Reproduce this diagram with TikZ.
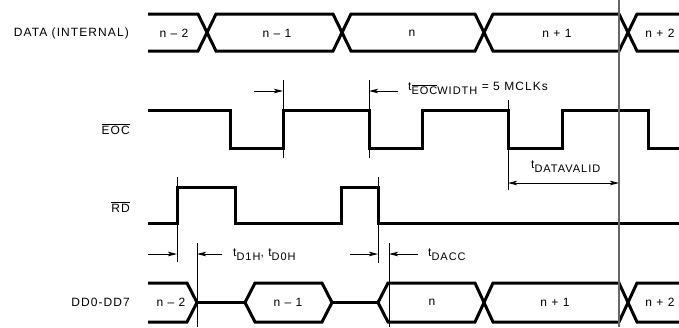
\documentclass[tikz,border=0pt]{standalone}
\usepackage{fontspec}
\setmainfont{Liberation Sans}[LetterSpace=9]
\usetikzlibrary{arrows.meta}
\newcommand\ovl[1]{$\overline{\hbox{#1}}$}
\newcommand\tsub[1]{t\raisebox{-4.5pt}{\fontsize{11}{13}\selectfont #1}}
\begin{document}
\begin{tikzpicture}[x=1pt,y=-1pt,
  sig/.style={line width=3pt, line join=miter, line cap=butt},
  tick/.style={line width=0.9pt},
  dim/.style={line width=0.9pt, -{Stealth[length=9pt,width=4.5pt,inset=2pt]}},
  ddim/.style={line width=0.9pt, {Stealth[length=9pt,width=4.5pt,inset=2pt]}-{Stealth[length=9pt,width=4.5pt,inset=2pt]}},
  rowlbl/.style={anchor=east, inner sep=0pt, font=\fontsize{12}{14}\selectfont},
  txt/.style={inner sep=0pt, font=\fontsize{12}{14}\selectfont},
  tlbl/.style={anchor=base west, inner sep=0pt, font=\fontsize{12}{14}\selectfont}]
\useasboundingbox (0,0) rectangle (679,327);

% row labels
\node[rowlbl] (lData) at (129,33) {DATA (INTERNAL)};
\node[rowlbl] (lEoc) at (130,129) {\ovl{EOC}};
\node[rowlbl] (lRd) at (130,207) {\ovl{RD}};
\node[rowlbl] (lDd) at (130,302) {DD0-DD7};

% DATA (INTERNAL)
\draw[sig] (148,14) -- (198,14) -- (216,51) -- (333,51) -- (351,14) -- (475,14) -- (493,51) -- (619,51) -- (637,14) -- (679,14);
\draw[sig] (148,51) -- (198,51) -- (216,14) -- (333,14) -- (351,51) -- (475,51) -- (493,14) -- (619,14) -- (637,51) -- (679,51);
\node[txt] (d1) at (174,33) {n -- 2};
\node[txt] (d2) at (277,33) {n -- 1};
\node[txt] (d3) at (412,33) {n};
\node[txt] (d4) at (557,33) {n + 1};
\node[txt] (d5) at (660,33) {n + 2};

% EOC
\draw[sig] (148,110) -- (230,110) -- (230,148) -- (283,148) -- (283,110) -- (369,110) -- (369,148) -- (422,148) -- (422,110) -- (508,110) -- (508,148) -- (562,148) -- (562,110) -- (648,110) -- (648,148) -- (679,148);

% RD
\draw[sig] (148,223) -- (177,223) -- (177,187) -- (235,187) -- (235,223) -- (341,223) -- (341,187) -- (378,187) -- (378,223) -- (679,223);

% DD0-DD7
\draw[sig] (148,283) -- (187,283) -- (197,302.5) -- (187,322) -- (148,322);
\draw[sig] (197,302.5) -- (245,302.5);
\draw[sig] (245,302.5) -- (255,283) -- (322,283) -- (332,302.5) -- (322,322) -- (255,322) -- cycle;
\draw[sig] (332,302.5) -- (378,302.5);
\draw[sig] (378,302.5) -- (388,283) -- (475,283) -- (493,322) -- (619,322) -- (637,283) -- (679,283);
\draw[sig] (378,302.5) -- (388,322) -- (475,322) -- (493,283) -- (619,283) -- (637,322) -- (679,322);
\node[txt] (b1) at (171,302) {n -- 2};
\node[txt] (b2) at (288,302) {n -- 1};
\node[txt] (b3) at (432,302) {n};
\node[txt] (b4) at (555,302) {n + 1};
\node[txt] (b5) at (660,302) {n + 2};

% gray reference line
\draw[line width=1.2pt, black!60] (619,0) -- (619,327);

% ticks
\coordinate (e1t) at (283,80);   \coordinate (e1b) at (283,158);
\coordinate (e2t) at (369,80);   \coordinate (e2b) at (369,158);
\coordinate (e3t) at (508,100);  \coordinate (e3b) at (508,190);
\coordinate (r1t) at (177,177);  \coordinate (r1b) at (177,262);
\coordinate (r2t) at (378,177);  \coordinate (r2b) at (378,263);
\coordinate (q1t) at (197,243);  \coordinate (q1b) at (197,327);
\coordinate (q2t) at (389,243);  \coordinate (q2b) at (389,327);
\foreach \a in {e1,e2,e3,r1,r2,q1,q2} \draw[tick] (\a t) -- (\a b);

% dimension arrows
\coordinate (a1s) at (254,91);  \coordinate (a1e) at (283,91);
\coordinate (a2s) at (398,91);  \coordinate (a2e) at (369,91);
\coordinate (v1) at (508,183);  \coordinate (v2) at (619,183);
\coordinate (a3s) at (148,254); \coordinate (a3e) at (177,254);
\coordinate (a4s) at (222,254); \coordinate (a4e) at (197,254);
\coordinate (a5s) at (350,254); \coordinate (a5e) at (378,254);
\coordinate (a6s) at (418,254); \coordinate (a6e) at (389,254);
\draw[dim] (a1s) -- (a1e);
\draw[dim] (a2s) -- (a2e);
\draw[ddim] (v1) -- (v2);
\draw[dim] (a3s) -- (a3e);
\draw[dim] (a4s) -- (a4e);
\draw[dim] (a5s) -- (a5e);
\draw[dim] (a6s) -- (a6e);

% timing labels
\node[tlbl] (tw) at (408,90) {\tsub{\ovl{EOC}WIDTH} = 5 MCLKs};
\node[tlbl] (tv) at (531,168) {\tsub{DATAVALID}};
\node[tlbl] (th) at (233,256) {\tsub{D1H}, \tsub{D0H}};
\node[tlbl] (ta) at (428,256) {\tsub{DACC}};
\end{tikzpicture}
\end{document}
